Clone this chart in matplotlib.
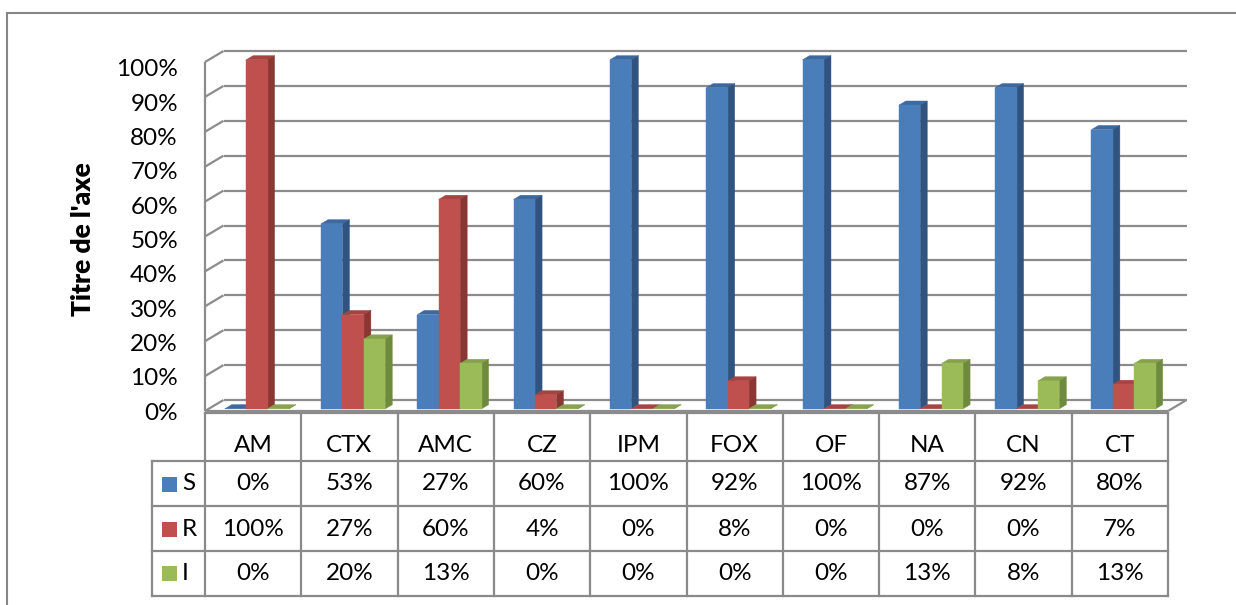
import numpy as np
import matplotlib
matplotlib.use("Agg")
import matplotlib.pyplot as plt
from matplotlib.patches import Polygon, Rectangle
from matplotlib.lines import Line2D
from matplotlib.transforms import IdentityTransform

# ---- data -----------------------------------------------------------------
categories = ["AM", "CTX", "AMC", "CZ", "IPM", "FOX", "OF", "NA", "CN", "CT"]
series_names = ["S", "R", "I"]
s_values = [0, 53, 27, 60, 100, 92, 100, 87, 92, 80]
r_values = [100, 27, 60, 4, 0, 8, 0, 0, 0, 7]
i_values = [0, 20, 13, 0, 0, 0, 0, 13, 8, 13]
value_ticks = list(range(0, 101, 10))
axis_title = "Titre de l'axe"

# ---- styling --------------------------------------------------------------
plt.rcParams["font.family"] = ["Lato", "DejaVu Sans"]
FRONT = ["#4A7EBB", "#C0504D", "#9BBB59"]
SIDE = ["#30547F", "#8A3633", "#6E8A3C"]
TOP = ["#3D69A0", "#A64442", "#86A24C"]
GRID = "#8C8C8C"
TABLE_LINE = "#8A8A8A"
FS = 17.5

W, H, DPI = 1236, 605, 100
fig = plt.figure(figsize=(W / DPI, H / DPI), dpi=DPI)
fig.patch.set_facecolor("white")


def box(left, top, right, bottom):
    """Pixel box measured from the top-left corner -> figure-fraction rect."""
    return [left / W, 1 - bottom / H, (right - left) / W, (bottom - top) / H]


# Front plane of the 3-D plot: x in category units, y in percent
PLOT_L, PLOT_R, PLOT_T, PLOT_B = 205, 1168, 62, 411
ax = fig.add_axes(box(PLOT_L, PLOT_T, PLOT_R, PLOT_B))
ax.set_xlim(0, len(categories))
ax.set_ylim(0, 100)
ax.axis("off")

DEPTH = np.array([18.5, 11.0])  # screen shift (px) from the front plane to the back wall


def P(x, v, d):
    """Project (category x, value v, depth d in [0,1]) to display pixels."""
    return ax.transData.transform((x, v)) + d * DEPTH


def seg(p0, p1, color=GRID, lw=1.6, z=1):
    fig.add_artist(Line2D([p0[0], p1[0]], [p0[1], p1[1]], color=color, lw=lw,
                          transform=IdentityTransform(), zorder=z,
                          solid_capstyle="butt"))


def poly(pts, color, z):
    fig.add_artist(Polygon(np.array(pts), closed=True, facecolor=color,
                           edgecolor=color, lw=0.3,
                           transform=IdentityTransform(), zorder=z))


n = len(categories)
# back wall gridlines and left wall edges
for v in value_ticks:
    seg(P(0, v, 1), P(n, v, 1))
    seg(P(0, v, 0), P(0, v, 1))
seg(P(0, 0, 0), P(0, 100, 0))
# floor outline
seg(P(0, 0, 0), P(n, 0, 0))
seg(P(n, 0, 0), P(n, 0, 1))

# ---- 3-D columns ------------------------------------------------------------
series = [s_values, r_values, i_values]
GAP = 1.5
bar_w = 1 / (len(series) + GAP)
D0, D1 = 0.2, 0.58
z = 3
for i in range(n):
    start = i + 0.5 - bar_w * len(series) / 2
    for k, vals in enumerate(series):
        x0, x1, v = start + k * bar_w, start + (k + 1) * bar_w, vals[i]
        poly([P(x0, v, D0), P(x1, v, D0), P(x1, v, D1), P(x0, v, D1)], TOP[k], z)
        poly([P(x1, 0, D0), P(x1, 0, D1), P(x1, v, D1), P(x1, v, D0)], SIDE[k], z)
        if v > 0:
            poly([P(x0, 0, D0), P(x1, 0, D0), P(x1, v, D0), P(x0, v, D0)], FRONT[k], z)
        z += 1

# ---- value axis labels and title ---------------------------------------------
lab = fig.add_axes(box(PLOT_L, 68, PLOT_R, 411))
lab.set_ylim(0, 100)
lab.set_xticks([])
lab.set_yticks(value_ticks)
lab.set_yticklabels([f"{v}%" for v in value_ticks], fontsize=FS)
lab.tick_params(axis="y", length=0, pad=19.5)
for s in lab.spines.values():
    s.set_visible(False)
lab.patch.set_visible(False)
lab.text((83 - PLOT_L) / (PLOT_R - PLOT_L), 0.5, axis_title, transform=lab.transAxes,
         rotation=90, ha="center", va="center", fontsize=19, fontweight="heavy")

# ---- data table ---------------------------------------------------------------
COL_PX = (PLOT_R - PLOT_L) / n
LEG_PX = PLOT_L - 152
TAB_T, TAB_B = 413, 596
row_edges = [0, 48, 93, 138, 183]
row_text = [33, 71, 116, 160]
tab = fig.add_axes(box(152, TAB_T, PLOT_R, TAB_B))
tab.set_xlim(-LEG_PX / COL_PX, n)
tab.set_ylim(TAB_B - TAB_T, 0)
tab.axis("off")
lx = -LEG_PX / COL_PX
kw = dict(color=TABLE_LINE, lw=1.6, clip_on=False, solid_capstyle="projecting")
tab.plot([0, n], [0, 0], **kw)
for y in row_edges[1:]:
    tab.plot([lx, n], [y, y], **kw)
for c in range(n + 1):
    tab.plot([c, c], [0, row_edges[-1]], **kw)
tab.plot([lx, lx], [row_edges[1], row_edges[-1]], **kw)

for c, name in enumerate(categories):
    tab.text(c + 0.5, row_text[0], name, ha="center", va="center", fontsize=FS)
for k, (name, vals) in enumerate(zip(series_names, series)):
    yc = row_text[k + 1]
    tab.add_patch(Rectangle(((162 - PLOT_L) / COL_PX, yc - 7.5), 15 / COL_PX, 15,
                            facecolor=FRONT[k], edgecolor="none", clip_on=False))
    tab.text((182 - PLOT_L) / COL_PX, yc, name, ha="left", va="center", fontsize=FS)
    for c, v in enumerate(vals):
        tab.text(c + 0.5, yc, f"{v}%", ha="center", va="center", fontsize=FS)

# chart area border
fig.add_artist(Rectangle((7, -20), 1300, H - 13 + 20, facecolor="none",
                         edgecolor="#868686", lw=1.5, transform=IdentityTransform(),
                         zorder=0))

fig.savefig("out.png", dpi=DPI, facecolor="white")
